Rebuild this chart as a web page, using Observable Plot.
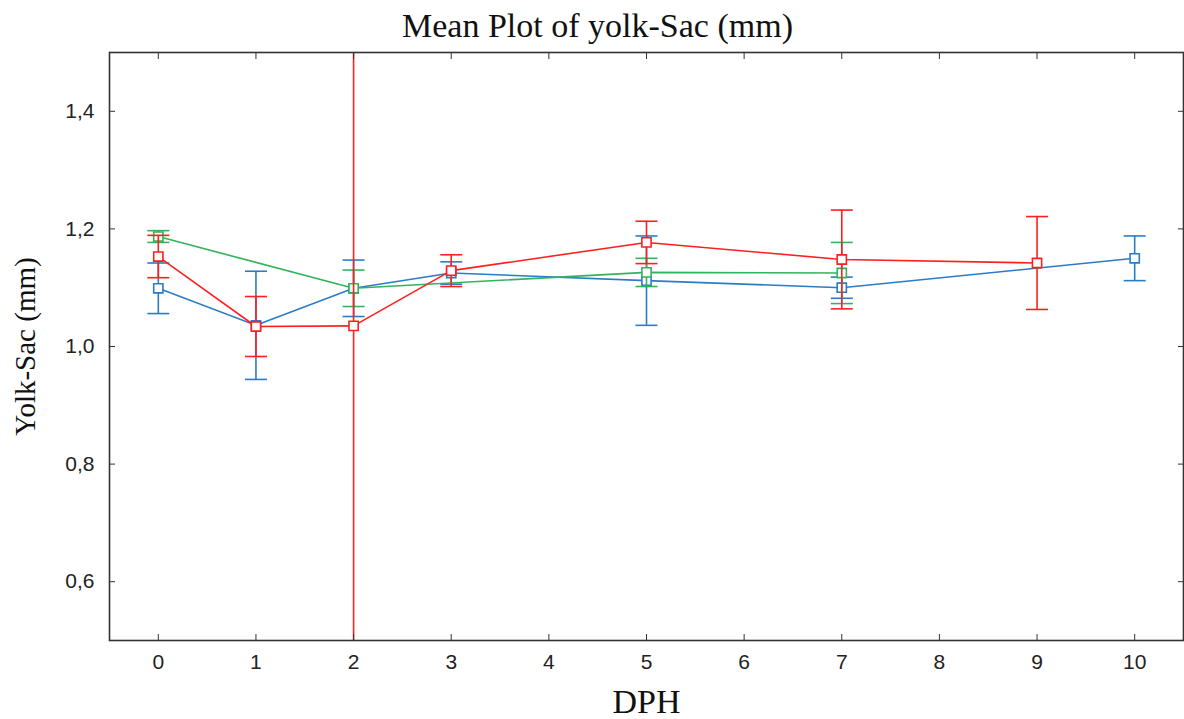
<!DOCTYPE html>
<html>
<head>
<meta charset="utf-8">
<script src="https://cdn.jsdelivr.net/npm/d3@7"></script>
<script src="https://cdn.jsdelivr.net/npm/@observablehq/plot@0.6"></script>
<style>
  body { margin: 0; background: white; }
</style>
</head>
<body>
<div id="chart"></div>
<script>
// ---- data ----
const titleText = "Mean Plot of yolk-Sac (mm)";
const xLabel = "DPH";
const yLabel = "Yolk-Sac (mm)";
const xTicks = [0, 1, 2, 3, 4, 5, 6, 7, 8, 9, 10];
const yTicks = [0.6, 0.8, 1.0, 1.2, 1.4];

const blueDPH  = [0, 1, 2, 3, 5, 7, 10];
const blueMean = [1.099, 1.036, 1.099, 1.125, 1.112, 1.100, 1.150];
const blueErr  = [0.043, 0.092, 0.048, 0.019, 0.076, 0.018, 0.038];

const greenDPH  = [0, 2, 5, 7];
const greenMean = [1.187, 1.099, 1.126, 1.125];
const greenErr  = [0.010, 0.031, 0.024, 0.052];

const redDPH  = [0, 1, 2, 3, 5, 7, 9];
const redMean = [1.153, 1.034, 1.035, 1.129, 1.177, 1.148, 1.142];
const redErr  = [0.036, 0.051, 0.700, 0.027, 0.036, 0.084, 0.079];

const colors = { blue: "#2a7cc6", green: "#33b35c", red: "#ff1f1f" };

// ---- build tables ----
function table(name, xs, means, errs) {
  return xs.map((x, i) => ({ series: name, x, mean: means[i], err: errs[i] }));
}
const seriesList = [
  table("blue", blueDPH, blueMean, blueErr),
  table("green", greenDPH, greenMean, greenErr),
  table("red", redDPH, redMean, redErr)
];

const capSymbol = {
  draw(context) {
    context.moveTo(-11, 0);
    context.lineTo(11, 0);
  }
};

const seriesMarks = seriesList.flatMap(data => {
  const c = colors[data[0].series];
  return [
    Plot.line(data, { x: "x", y: "mean", stroke: c, strokeWidth: 1.6 }),
    Plot.ruleX(data, { x: "x", y1: d => d.mean - d.err, y2: d => d.mean + d.err, stroke: c, strokeWidth: 1.6, clip: true }),
    Plot.dot(data, { x: "x", y: d => d.mean + d.err, symbol: capSymbol, stroke: c, strokeWidth: 1.6, clip: true }),
    Plot.dot(data, { x: "x", y: d => d.mean - d.err, symbol: capSymbol, stroke: c, strokeWidth: 1.6, clip: true }),
    Plot.dot(data, { x: "x", y: "mean", symbol: "square", r: 5.2, fill: "white", stroke: c, strokeWidth: 1.6 })
  ];
});

const serif = "'Liberation Serif', 'Times New Roman', serif";

const chart = Plot.plot({
  width: 1184,
  height: 719,
  marginLeft: 109,
  marginRight: 1,
  marginTop: 52,
  marginBottom: 79,
  x: { domain: [-0.5, 10.5] },
  y: { domain: [0.5, 1.5] },
  style: { fontFamily: "'Liberation Sans', Arial, sans-serif", fontSize: "21px", color: "#222", background: "white" },
  marks: [
    ...seriesMarks,
    Plot.frame({ stroke: "#333", strokeWidth: 1.6 }),
    Plot.axisX(xTicks, { anchor: "bottom", tickSize: -6, tickPadding: 20, label: null, fontSize: 21, stroke: "#333" }),
    Plot.axisX(xTicks, { anchor: "top", tickSize: -6, tickFormat: () => "", label: null, stroke: "#333" }),
    Plot.axisY(yTicks, { anchor: "left", tickSize: -6, tickPadding: 21, tickFormat: d => d.toFixed(1).replace(".", ","), label: null, fontSize: 21, stroke: "#333" }),
    Plot.axisY(yTicks, { anchor: "right", tickSize: -6, tickFormat: () => "", label: null, stroke: "#333" }),
    Plot.text([titleText], { text: d => d, frameAnchor: "top", lineAnchor: "middle", dx: -49, dy: -26, fontFamily: serif, fontSize: 34, fill: "#111" }),
    Plot.text([xLabel], { text: d => d, frameAnchor: "bottom", lineAnchor: "middle", dy: 62, fontFamily: serif, fontSize: 34, fill: "#111" }),
    Plot.text([yLabel], { text: d => d, frameAnchor: "left", lineAnchor: "middle", textAnchor: "middle", dx: -84, rotate: -90, fontFamily: serif, fontSize: 29, fill: "#111" })
  ]
});
document.getElementById("chart").appendChild(chart);
</script>
</body>
</html>
